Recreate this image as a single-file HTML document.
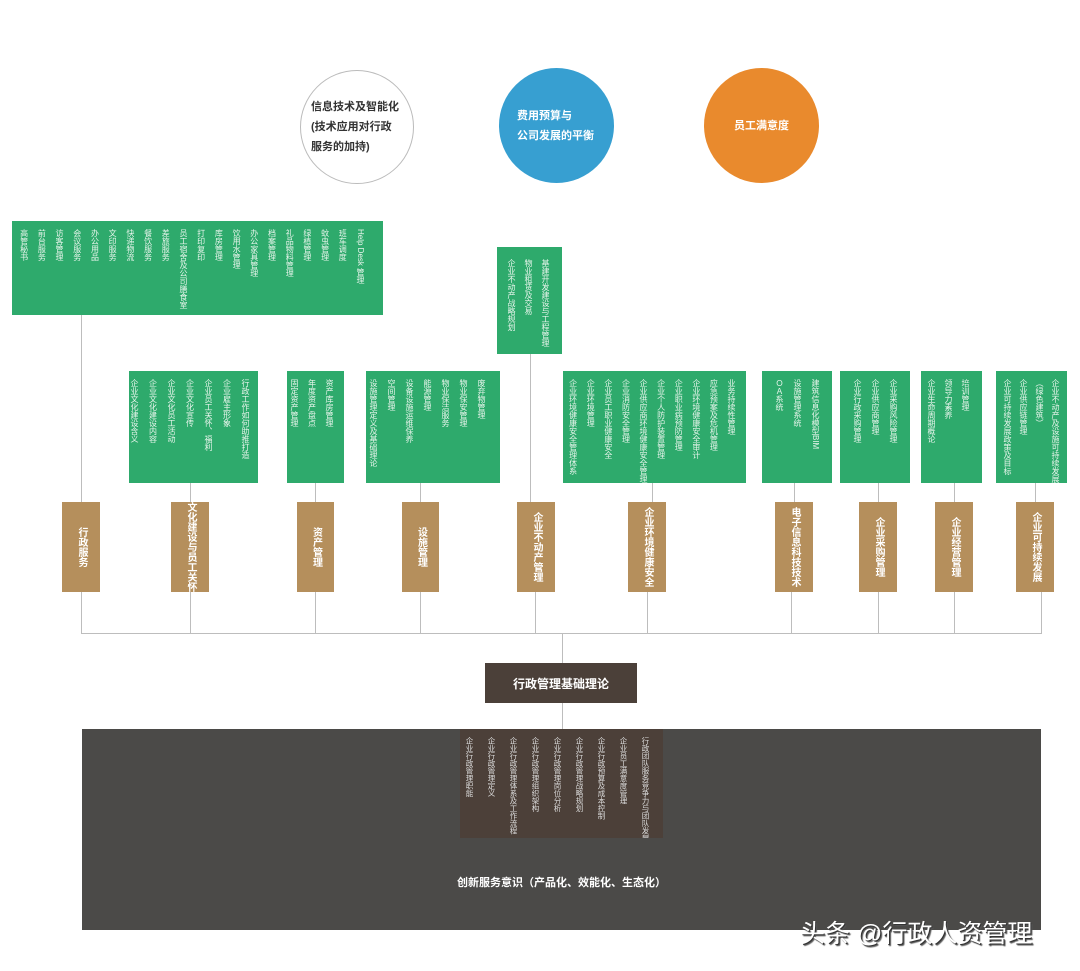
<!DOCTYPE html>
<html><head><meta charset="utf-8"><style>
*{margin:0;padding:0;box-sizing:border-box}
body{width:1080px;height:971px;background:#fff;position:relative;overflow:hidden;font-family:"Liberation Sans","Noto Sans CJK SC",sans-serif}
.a{position:absolute}
.c{position:absolute;border-radius:50%;display:flex;align-items:center;justify-content:center;font-size:11px;font-weight:bold;line-height:20px}
.g{position:absolute;background:#2eaa6c;color:#e8f5ec;writing-mode:vertical-rl;font-size:8px;white-space:nowrap;overflow:hidden}
.b{position:absolute;background:#b58f5c;color:#fff;writing-mode:vertical-rl;font-size:10px;font-weight:bold;display:flex;align-items:center;justify-content:center;line-height:1;text-align:center;white-space:nowrap}
.l{position:absolute;background:#bdbdbd}
</style></head><body>
<div class="c" style="left:300px;top:70px;width:114px;height:114px;border:1px solid #bbb;color:#333;padding-left:10px;justify-content:flex-start">信息技术及智能化<br>(技术应用对行政<br>服务的加持)</div>
<div class="c" style="left:499px;top:68px;width:115px;height:115px;background:#379fd1;color:#fff;justify-content:flex-start;padding-left:18px">费用预算与<br>公司发展的平衡</div>
<div class="c" style="left:704px;top:68px;width:115px;height:115px;background:#e98a2d;color:#fff">员工满意度</div>

<div class="l" style="left:81px;top:315px;width:1px;height:188px"></div>
<div class="l" style="left:530px;top:354px;width:1px;height:148px"></div>
<div class="l" style="left:190px;top:483px;width:1px;height:20px"></div>
<div class="l" style="left:315px;top:483px;width:1px;height:20px"></div>
<div class="l" style="left:420px;top:483px;width:1px;height:20px"></div>
<div class="l" style="left:652px;top:483px;width:1px;height:20px"></div>
<div class="l" style="left:794px;top:483px;width:1px;height:20px"></div>
<div class="l" style="left:878px;top:483px;width:1px;height:20px"></div>
<div class="l" style="left:954px;top:483px;width:1px;height:20px"></div>
<div class="l" style="left:1035px;top:483px;width:1px;height:20px"></div>
<div class="l" style="left:81px;top:592px;width:1px;height:41px"></div>
<div class="l" style="left:190px;top:592px;width:1px;height:41px"></div>
<div class="l" style="left:315px;top:592px;width:1px;height:41px"></div>
<div class="l" style="left:420px;top:592px;width:1px;height:41px"></div>
<div class="l" style="left:535px;top:592px;width:1px;height:41px"></div>
<div class="l" style="left:647px;top:592px;width:1px;height:41px"></div>
<div class="l" style="left:791px;top:592px;width:1px;height:41px"></div>
<div class="l" style="left:878px;top:592px;width:1px;height:41px"></div>
<div class="l" style="left:954px;top:592px;width:1px;height:41px"></div>
<div class="l" style="left:1041px;top:592px;width:1px;height:41px"></div>
<div class="l" style="left:81px;top:633px;width:961px;height:1px"></div>
<div class="l" style="left:562px;top:633px;width:1px;height:96px"></div>

<div class="g" style="left:12px;top:221px;width:371px;height:94px;padding:8px 14px 0 0;line-height:17.7px">Help Desk 管理<br>班车调度<br>蚊虫管理<br>绿植管理<br>礼品物料管理<br>档案管理<br>办公家具管理<br>饮用水管理<br>库房管理<br>打印复印<br>员工宿舍及公司膳食室<br>差旅服务<br>餐饮服务<br>快递物流<br>文印服务<br>办公用品<br>会议服务<br>访客管理<br>前台服务<br>高管秘书</div>
<div class="g" style="left:497px;top:247px;width:65px;height:107px;padding:12px 8px 0 0;line-height:17px">基建开发建设与工程管理<br>物业租赁及交易<br>企业不动产战略规划</div>

<div class="g" style="left:129px;top:371px;width:129px;height:112px;padding:8px 4px 0 0;line-height:18.5px">行政工作如何助推打造<br>企业雇主形象<br>企业员工关怀、福利<br>企业文化宣传<br>企业文化员工活动<br>企业文化建设内容<br>企业文化建设含义</div>
<div class="g" style="left:287px;top:371px;width:57px;height:112px;padding:8px 6px 0 0;line-height:17.5px">资产库房管理<br>年度资产盘点<br>固定资产管理</div>
<div class="g" style="left:366px;top:371px;width:134px;height:112px;padding:8px 10px 0 0;line-height:18px">废弃物管理<br>物业保安管理<br>物业保洁服务<br>能源管理<br>设备设施运维保养<br>空间管理<br>设施管理定义及基础理论</div>
<div class="g" style="left:563px;top:371px;width:183px;height:112px;padding:8px 6px 0 0;line-height:17.6px">业务持续性管理<br>应急预案及危机管理<br>企业环境健康安全审计<br>企业职业病预防管理<br>企业个人防护装置管理<br>企业供应商环境健康安全管理<br>企业消防安全管理<br>企业员工职业健康安全<br>企业环境管理<br>企业环境健康安全管理体系</div>
<div class="g" style="left:762px;top:371px;width:70px;height:112px;padding:8px 8px 0 0;line-height:18px">建筑信息化模型BIM<br>设施管理系统<br>ＯＡ系统</div>
<div class="g" style="left:840px;top:371px;width:70px;height:112px;padding:8px 8px 0 0;line-height:18px">企业采购风险管理<br>企业供应商管理<br>企业行政采购管理</div>
<div class="g" style="left:921px;top:371px;width:61px;height:112px;padding:8px 8px 0 0;line-height:17px">培训管理<br>领导力素养<br>企业生命周期概论</div>
<div class="g" style="left:996px;top:371px;width:71px;height:112px;padding:8px 4px 0 0;line-height:16px">企业不动产及设施可持续发展<br>（绿色建筑）<br>企业供应链管理<br>企业可持续发展政策及目标</div>

<div class="b" style="left:62px;top:502px;width:38px;height:90px">行政服务</div>
<div class="b" style="left:171px;top:502px;width:38px;height:90px">文化建设与员工关怀</div>
<div class="b" style="left:297px;top:502px;width:37px;height:90px">资产管理</div>
<div class="b" style="left:402px;top:502px;width:37px;height:90px">设施管理</div>
<div class="b" style="left:517px;top:502px;width:38px;height:90px">企业不动产管理</div>
<div class="b" style="left:628px;top:502px;width:38px;height:90px">企业环境健康安全</div>
<div class="b" style="left:775px;top:502px;width:38px;height:90px">电子信息科技技术</div>
<div class="b" style="left:859px;top:502px;width:38px;height:90px">企业采购管理</div>
<div class="b" style="left:935px;top:502px;width:38px;height:90px">企业经营管理</div>
<div class="b" style="left:1016px;top:502px;width:38px;height:90px">企业可持续发展</div>

<div class="a" style="left:485px;top:663px;width:152px;height:40px;background:#4b4039;color:#fff;font-size:12px;font-weight:bold;display:flex;align-items:center;justify-content:center">行政管理基础理论</div>

<div class="a" style="left:82px;top:729px;width:959px;height:201px;background:#4b4a48"></div>
<div class="a" style="left:460px;top:729px;width:203px;height:109px;background:#4c4039;color:#ddd;writing-mode:vertical-rl;font-size:7.5px;line-height:22px;padding:8px 7px 0 0;white-space:nowrap;overflow:hidden">行政团队服务竞争力与团队发展<br>企业员工满意度管理<br>企业行政预算及成本控制<br>企业行政管理战略规划<br>企业行政管理岗位分析<br>企业行政管理组织架构<br>企业行政管理体系及工作流程<br>企业行政管理定义<br>企业行政管理职能</div>
<div class="a" style="left:82px;top:874px;width:959px;text-align:center;color:#fff;font-size:11px;font-weight:bold">创新服务意识（产品化、效能化、生态化）</div>

<div class="a" style="left:800px;top:914px;color:#fff;font-size:25px;text-shadow:1px 1px 0 #333,2px 2px 1px #555;white-space:nowrap">头条 @行政人资管理</div>
</body></html>
